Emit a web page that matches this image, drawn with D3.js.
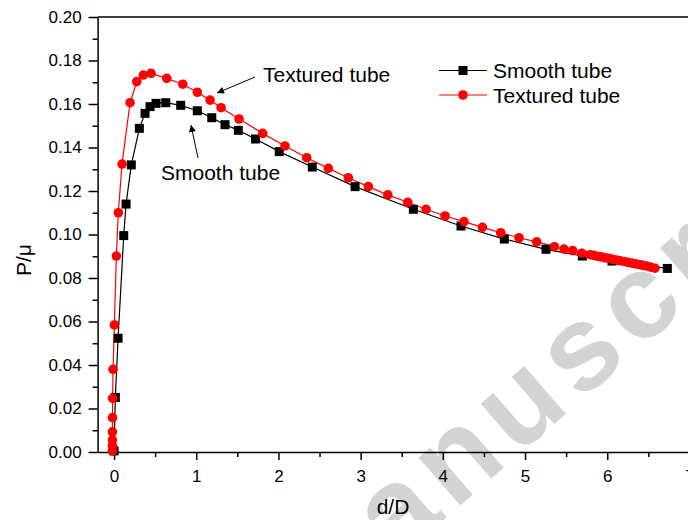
<!DOCTYPE html>
<meta charset="utf-8">
<script src="https://d3js.org/d3.v7.min.js"></script>
<style>
    body { margin: 0; background: white; }
    text { font-family: "Liberation Sans", Arial, sans-serif; }
</style>
<div id="my_dataviz"></div>

<script>

    // values
    var smoothX = [0, 0.016, 0.049, 0.118, 0.146, 0.210, 0.308, 0.377, 0.438, 0.511, 0.629, 0.811,
        1.013, 1.189, 1.350, 1.512, 1.721, 2.010, 2.412, 2.932, 3.641, 4.221, 4.748, 5.255,
        5.697, 6.058, 6.731];
    var smoothY = [0.0005, 0.0251, 0.0523, 0.0995, 0.1140, 0.1320, 0.1488, 0.1557, 0.1588, 0.1603, 0.1606, 0.1594,
        0.1569, 0.1537, 0.1505, 0.1479, 0.1439, 0.1381, 0.1310, 0.1220, 0.1116, 0.1039, 0.0979, 0.0932,
        0.0901, 0.0878, 0.0844];

    var texturedX = [-0.02, -0.02, -0.02, -0.02, -0.019, -0.017, -0.012, 0.004, 0.028, 0.052, 0.097,
        0.195, 0.276, 0.356, 0.450, 0.641, 0.836, 1.013, 1.168, 1.302, 1.521, 1.809, 2.080,
        2.344, 2.607, 2.850, 3.094, 3.330, 3.573, 3.796, 4.027, 4.258, 4.481, 4.704, 4.927,
        5.142, 5.357, 5.474, 5.580, 5.690, 5.790, 5.835, 5.882, 5.928, 5.975, 6.020, 6.066,
        6.112, 6.158, 6.205, 6.250, 6.296, 6.342, 6.388, 6.434, 6.480, 6.530, 6.580];
    var texturedY = [0.0005, 0.0028, 0.0055, 0.0093, 0.0158, 0.0247, 0.0380, 0.0584, 0.0901, 0.1100, 0.1324,
        0.1606, 0.1703, 0.1733, 0.1741, 0.1718, 0.1691, 0.1654, 0.1618, 0.1583, 0.1531, 0.1465, 0.1407,
        0.1353, 0.1304, 0.1261, 0.1220, 0.1182, 0.1148, 0.1116, 0.1085, 0.1059, 0.1033, 0.1008, 0.0985,
        0.0966, 0.0944, 0.0933, 0.0926, 0.0914, 0.0907, 0.0904, 0.0900, 0.0897, 0.0893, 0.0890, 0.0886,
        0.0883, 0.0879, 0.0876, 0.0872, 0.0869, 0.0865, 0.0862, 0.0858, 0.0855, 0.0850, 0.0845];

    var yTicks = [0, 0.02, 0.04, 0.06, 0.08, 0.10, 0.12, 0.14, 0.16, 0.18, 0.20];
    var yMinor = [0.01, 0.03, 0.05, 0.07, 0.09, 0.11, 0.13, 0.15, 0.17, 0.19];
    var xTicks = [0, 1, 2, 3, 4, 5, 6, 7];
    var xMinor = [0.5, 1.5, 2.5, 3.5, 4.5, 5.5, 6.5, 7.5];

    var seriesNames = ["Smooth tube", "Textured tube"];
    var seriesColors = ["black", "red"];

    var smooth = smoothX.map(function(d, i) { return {x: d, y: smoothY[i]}; });
    var textured = texturedX.map(function(d, i) { return {x: d, y: texturedY[i]}; });

    var W = 688, H = 520;

    var svg = d3.select("#my_dataviz")
        .append("svg")
        .attr("width", W)
        .attr("height", H)
        .style("display", "block");

    // plot area (the right part runs off the picture)
    var x = d3.scaleLinear()
        .domain([-0.2, 7.8])
        .range([97.6, 97.6 + 8 * 82.2]);

    var y = d3.scaleLinear()
        .domain([0, 0.2])
        .range([452, 17]);

    // watermark
    svg.append("text")
        .attr("transform", "translate(308,638) rotate(-41)")
        .style("font-size", "120px")
        .style("font-weight", "bold")
        .style("letter-spacing", "10px")
        .style("fill", "#d4d4d4")
        .text("manuscript");

    // minor ticks
    svg.append("g")
        .attr("transform", "translate(" + x.range()[0] + ",0)")
        .call(d3.axisLeft(y).tickValues(yMinor).tickSize(5).tickFormat("").tickSizeOuter(0))
        .call(function(g) { g.select(".domain").remove(); });

    svg.append("g")
        .attr("transform", "translate(0," + y.range()[0] + ")")
        .call(d3.axisBottom(x).tickValues(xMinor).tickSize(5).tickFormat("").tickSizeOuter(0))
        .call(function(g) { g.select(".domain").remove(); });

    // major axes
    var yAxis = svg.append("g")
        .attr("transform", "translate(" + x.range()[0] + ",0)")
        .call(d3.axisLeft(y).tickValues(yTicks).tickSize(9).tickPadding(7)
            .tickFormat(d3.format(".2f")).tickSizeOuter(0));

    var xAxis = svg.append("g")
        .attr("transform", "translate(0," + y.range()[0] + ")")
        .call(d3.axisBottom(x).tickValues(xTicks).tickSize(8).tickPadding(10)
            .tickFormat(d3.format("d")).tickSizeOuter(0));

    svg.selectAll(".tick text")
        .style("font-size", "17px")
        .style("font-family", "'Liberation Sans', Arial, sans-serif")
        .style("fill", "black");
    svg.selectAll(".tick line, .domain")
        .style("stroke", "black")
        .style("stroke-width", 1.5);

    // top frame line
    svg.append("line")
        .attr("x1", x.range()[0]).attr("x2", x.range()[1])
        .attr("y1", y.range()[1]).attr("y2", y.range()[1])
        .style("stroke", "black")
        .style("stroke-width", 1.5);

    // axis titles
    svg.append("text")
        .attr("x", 393)
        .attr("y", 514)
        .attr("text-anchor", "middle")
        .style("font-size", "21px")
        .text("d/D");

    svg.append("text")
        .attr("transform", "translate(31,260) rotate(-90)")
        .attr("text-anchor", "middle")
        .style("font-size", "21px")
        .text("P/\u03bc");

    // lines
    var line = d3.line()
        .x(function(d) { return x(d.x); })
        .y(function(d) { return y(d.y); });

    svg.append("path")
        .datum(smooth)
        .attr("d", line)
        .style("fill", "none")
        .style("stroke", "black")
        .style("stroke-width", 1.2);

    svg.append("path")
        .datum(textured)
        .attr("d", line)
        .style("fill", "none")
        .style("stroke", "red")
        .style("stroke-width", 1.2);

    // markers
    svg.append("g")
        .selectAll("rect")
        .data(smooth)
        .enter()
        .append("rect")
        .attr("x", function(d) { return x(d.x) - 4.5; })
        .attr("y", function(d) { return y(d.y) - 4.5; })
        .attr("width", 9)
        .attr("height", 9)
        .style("fill", "black");

    svg.append("g")
        .selectAll("circle")
        .data(textured)
        .enter()
        .append("circle")
        .attr("cx", function(d) { return x(d.x); })
        .attr("cy", function(d) { return y(d.y); })
        .attr("r", 4.8)
        .style("fill", "red");

    // arrows + notes
    svg.append("defs").append("marker")
        .attr("id", "arrow")
        .attr("viewBox", "0 0 10 10")
        .attr("refX", 10).attr("refY", 5)
        .attr("markerWidth", 10).attr("markerHeight", 7)
        .attr("markerUnits", "userSpaceOnUse")
        .attr("orient", "auto")
        .append("path")
        .attr("d", "M0,0L10,5L0,10z")
        .style("fill", "black");

    svg.append("line")
        .attr("x1", 255).attr("y1", 77)
        .attr("x2", 217).attr("y2", 93)
        .style("stroke", "black")
        .attr("marker-end", "url(#arrow)");

    svg.append("text")
        .attr("x", 263).attr("y", 82)
        .style("font-size", "21px")
        .text("Textured tube");

    svg.append("line")
        .attr("x1", 198).attr("y1", 158)
        .attr("x2", 191).attr("y2", 125)
        .style("stroke", "black")
        .attr("marker-end", "url(#arrow)");

    svg.append("text")
        .attr("x", 161).attr("y", 180)
        .style("font-size", "21px")
        .text("Smooth tube");

    // legend
    var legend = svg.selectAll(".legend")
        .data(seriesNames)
        .enter().append("g")
        .attr("class", "legend")
        .attr("transform", function(d, i) { return "translate(439," + (70.5 + i * 24.5) + ")"; });

    legend.append("line")
        .attr("x1", 0).attr("x2", 48)
        .style("stroke", function(d, i) { return seriesColors[i]; })
        .style("stroke-width", 1.2);

    legend.each(function(d, i) {
        var g = d3.select(this);
        if (i === 0) {
            g.append("rect").attr("x", 19.5).attr("y", -4.5).attr("width", 9).attr("height", 9)
                .style("fill", "black");
        } else {
            g.append("circle").attr("cx", 24).attr("cy", 0).attr("r", 4.8).style("fill", "red");
        }
    });

    legend.append("text")
        .attr("x", 54)
        .attr("y", 7.5)
        .style("font-size", "21px")
        .text(function(d) { return d; });

</script>
